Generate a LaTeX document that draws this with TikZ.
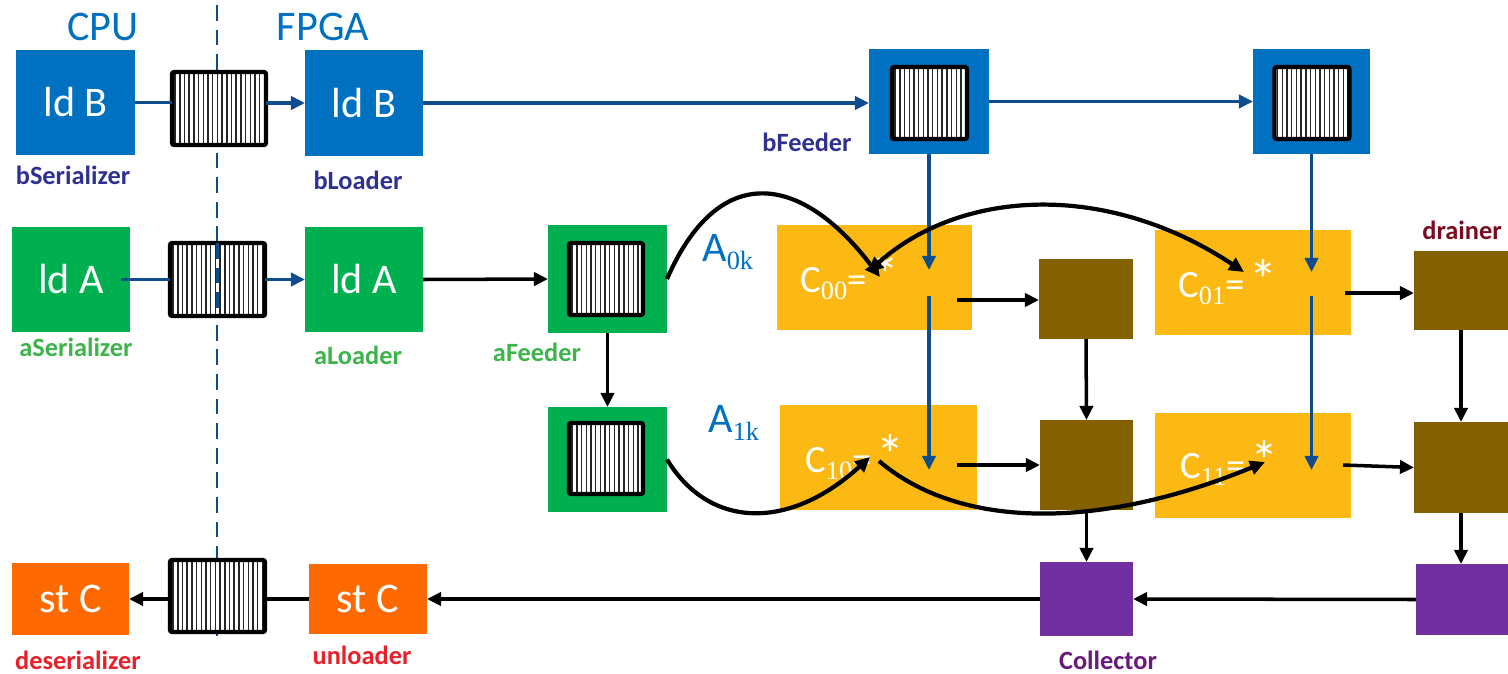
\documentclass[tikz,border=0pt]{standalone}
\usepackage{fontspec}
\setmainfont{Carlito}
\newfontfamily\serifsub{Liberation Serif}
\usetikzlibrary{arrows.meta}

\definecolor{boxblue}{HTML}{0070C0}
\definecolor{boxgreen}{HTML}{00B050}
\definecolor{boxorange}{HTML}{FF6A00}
\definecolor{boxgold}{HTML}{FDB913}
\definecolor{boxbrown}{HTML}{846000}
\definecolor{boxpurple}{HTML}{7030A0}
\definecolor{lineblue}{HTML}{0E4C8E}
\definecolor{labnavy}{HTML}{2E3192}
\definecolor{labgreen}{HTML}{3CB44B}
\definecolor{labred}{HTML}{E8202A}
\definecolor{labmaroon}{HTML}{7B0A1E}
\definecolor{labpurple}{HTML}{6A1A7A}

\newcommand\pxu{0.02cm}
\newcommand\lowsub[2]{\raisebox{#1}{\serifsub\fontsize{15}{15}\selectfont #2}}
\newcommand\bigstar{\raisebox{-1.5pt}{\fontsize{32}{32}\selectfont *}}

\begin{document}
\begin{tikzpicture}[x=0.02cm, y=-0.02cm,
  sz/.style 2 args={minimum width=#1*\pxu, minimum height=#2*\pxu},
  blk/.style={inner sep=0pt, outer sep=0pt, text=white,
              font=\fontsize{24}{28}\selectfont},
  fifo/.style={draw=black, line width=2.4pt, rounded corners=1.2pt, fill=white,
    inner sep=0pt, outer sep=0pt,
    path picture={\foreach \k in {1,...,21}{
      \draw[line width=0.8pt, draw=black!85]
        ([xshift=\k*4.7*\pxu-1.6*\pxu]path picture bounding box.south west) --
        ([xshift=\k*4.7*\pxu-1.6*\pxu]path picture bounding box.north west);}}},
  lab/.style={font=\bfseries\fontsize{15}{18}\selectfont, inner sep=0pt},
  head/.style={text=boxblue, font=\fontsize{24}{28}\selectfont, inner sep=0pt},
  ctext/.style={text=white, font=\fontsize{22}{26}\selectfont, inner sep=0pt, anchor=base west},
  atext/.style={text=boxblue, font=\fontsize{24}{28}\selectfont, inner sep=0pt, anchor=base west},
  bline/.style={draw=lineblue, line width=1.9pt},
  barr/.style={bline, -{Triangle[length=8pt,width=7.5pt]}},
  kline/.style={draw=black, line width=2pt},
  arr/.style={kline, -{Triangle[length=8pt,width=7.5pt]}},
  crv/.style={draw=black, line width=2.4pt, -{Triangle[length=8.5pt,width=8pt]}},
  crvb/.style={draw=black, line width=2.4pt, {Triangle[length=8.5pt,width=8pt]}-{Triangle[length=8.5pt,width=8pt]}},
  dashln/.style={lineblue, line width=1.5pt, dash pattern=on 9pt off 5pt}
]
\useasboundingbox (0,0) rectangle (1508,673);

% CPU / FPGA boundary
\coordinate (dtop) at (217,5);
\coordinate (dbot) at (217,640);
\draw[dashln] (dtop) -- (dbot);

\node[head] (cpu) at (103,27) {CPU};
\node[head] (fpga) at (323,27) {FPGA};

% B path
\node[blk, fill=boxblue, sz={119}{105}] (sB) at (75.5,102.5) {ld B};
\node[fifo, sz={94}{73}] (fifoB) at (219,108.5) {};
\node[blk, fill=boxblue, sz={118}{106}] (lB) at (364,103) {ld B};
\node[blk, fill=boxblue, sz={120}{105}] (bF1) at (929,101.5) {};
\node[fifo, sz={75}{72}] (bF1q) at (929.5,103) {};
\node[blk, fill=boxblue, sz={117}{105}] (bF2) at (1311.5,101.5) {};
\node[fifo, sz={75}{72}] (bF2q) at (1312,103) {};

% A path
\node[blk, fill=boxgreen, sz={118}{105}] (sA) at (71,279.5) {ld A};
\node[fifo, sz={95}{73}] (fifoA) at (217.5,279.5) {};
\node[blk, fill=boxgreen, sz={118}{105}] (lA) at (364,279.5) {ld A};
\node[blk, fill=boxgreen, sz={119}{108}] (aF1) at (607.5,279) {};
\node[fifo, sz={74}{72}] (aF1q) at (606,279) {};
\node[blk, fill=boxgreen, sz={119}{105}] (aF2) at (607.5,459.5) {};
\node[fifo, sz={74}{71}] (aF2q) at (606,458.5) {};
\draw[dashln] (fifoA.north) -- (fifoA.south);

% C path
\node[blk, fill=boxorange, sz={117}{72}] (dC) at (70.5,599) {st C};
\node[fifo, sz={95}{72}] (fifoC) at (217.5,596) {};
\node[blk, fill=boxorange, sz={118}{70}] (uC) at (368,599) {st C};

% processing elements
\node[blk, fill=boxgold, sz={195}{105}] (c00) at (874.5,277.5) {};
\node[blk, fill=boxgold, sz={196}{105}] (c01) at (1253,282.5) {};
\node[blk, fill=boxgold, sz={197}{105}] (c10) at (878.5,457.5) {};
\node[blk, fill=boxgold, sz={196}{105}] (c11) at (1253,465.5) {};
\node[ctext] (t00) at (800,292) {C\lowsub{-4.5pt}{00}=\hspace{3pt}\bigstar};
\node[ctext] (t01) at (1178,297) {C\lowsub{-4.5pt}{01}=\hspace{3pt}\bigstar};
\node[ctext] (t10) at (805,472) {C\lowsub{-4.5pt}{10}=\hspace{3pt}\bigstar};
\node[ctext] (t11) at (1180,478) {C\lowsub{-4.5pt}{11}=\hspace{3pt}\bigstar};

\node[blk, fill=boxbrown, sz={94}{80}] (br00) at (1086,299) {};
\node[blk, fill=boxbrown, sz={93}{90}] (br10) at (1086.5,465) {};
\node[blk, fill=boxbrown, sz={94}{79}] (dr0) at (1461,290.5) {};
\node[blk, fill=boxbrown, sz={94}{91}] (dr1) at (1461,467.5) {};
\node[blk, fill=boxpurple, sz={93}{74}] (col) at (1086.5,599) {};
\node[blk, fill=boxpurple, sz={92}{71}] (colR) at (1462,599.5) {};

% A labels
\node[atext] (a0k) at (702,261) {A\lowsub{-5pt}{0k}};
\node[atext] (a1k) at (708,432) {A\lowsub{-5pt}{1k}};

% captions
\node[lab, text=labnavy] (nsB) at (73,175) {bSerializer};
\node[lab, text=labnavy] (nlB) at (358,180) {bLoader};
\node[lab, text=labnavy] (nbF) at (807,142) {bFeeder};
\node[lab, text=labgreen] (nsA) at (76,347) {aSerializer};
\node[lab, text=labgreen] (nlA) at (358,355) {aLoader};
\node[lab, text=labgreen] (naF) at (537,352) {aFeeder};
\node[lab, text=labred] (ndC) at (78,660) {deserializer};
\node[lab, text=labred] (nuC) at (362,655) {unloader};
\node[lab, text=labmaroon] (ndr) at (1462,230) {drainer};
\node[lab, text=labpurple] (ncol) at (1108,660) {Collector};

% B connections
\draw[bline] (sB.east) -- (sB.east -| fifoB.west);
\draw[barr] (fifoB.east |- lB.west) -- (lB.west);
\draw[barr] (lB.east) -- (lB.east -| bF1.west);
\draw[barr] (bF1.east) -- (bF2.west);

% A connections
\draw[bline] ([xshift=-9*\pxu]sA.east) -- (fifoA.west);
\draw[barr] (fifoA.east) -- (lA.west);
\draw[arr] (lA.east) -- (aF1.west);
\draw[arr] (aF1.south) -- (aF2.north);

% B operands down the columns
\coordinate (b00) at (929,270);
\coordinate (b00s) at (929,296);
\coordinate (b10) at (929,470);
\coordinate (b01) at (1311.5,272);
\coordinate (b01s) at (1311.5,296);
\coordinate (b11) at (1311.5,470);
\draw[barr] (bF1.south) -- (b00);
\draw[barr] (b00s) -- (b10);
\draw[barr] (bF2.south) -- (b01);
\draw[barr] (b01s) -- (b11);

% results to drain chain
\coordinate (c00o) at (957,300);
\coordinate (c10o) at (957,465);
\coordinate (c01o) at (1345,293);
\coordinate (c11o) at (1343,465);
\draw[arr] (c00o) -- (c00o -| br00.west);
\draw[arr] (c10o) -- (br10.west);
\draw[arr] (c01o) -- (c01o -| dr0.west);
\draw[arr] (c11o) -- (dr1.west);
\draw[arr] (br00.south) -- (br10.north);
\draw[arr] (dr0.south) -- (dr0.south |- dr1.north);
\draw[arr] (br10.south) -- (col.north);
\draw[arr] (dr1.south) -- (dr1.south |- colR.north);

% write-back
\draw[arr] (colR.west) -- (col.east);
\draw[arr] (col.west) -- (uC.east);
\draw[kline] (uC.west) -- (uC.west -| fifoC.east);
\draw[arr] (fifoC.west |- dC.east) -- (dC.east);

% A operands across the rows
\coordinate (c00a) at (880,277);
\coordinate (c00b) at (868,272);
\coordinate (c01a) at (1244,272);
\coordinate (c10a) at (870,457);
\coordinate (c10b) at (879,461);
\coordinate (c11a) at (1265,462);
\draw[crv] (aF1.east) .. controls (718,162) and (800,172) .. (c00a);
\draw[crvb] (c00b) .. controls (960,190) and (1105,180) .. (c01a);
\draw[crv] (aF2.east) .. controls (710,530) and (790,530) .. (c10a);
\draw[crv] (c10b) .. controls (960,530) and (1100,530) .. (c11a);
\end{tikzpicture}
\end{document}
